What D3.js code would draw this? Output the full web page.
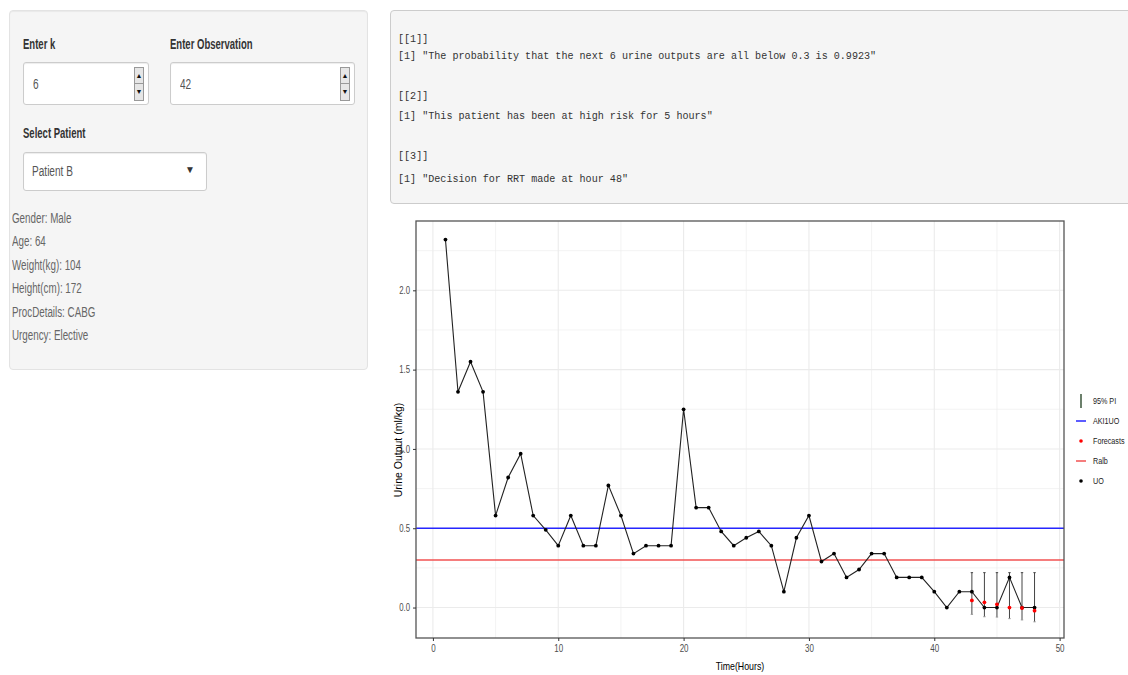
<!DOCTYPE html>
<html>
<head>
<meta charset="utf-8">
<script src="https://cdn.jsdelivr.net/npm/d3@7"></script>
<style>
  body { margin: 0; background: #fff; font-family: "Liberation Sans", Arial, sans-serif; }
  #page { position: relative; width: 1128px; height: 675px; overflow: hidden; }
  .abs { position: absolute; }
  .sq { display: inline-block; white-space: nowrap; transform-origin: 0 50%; }
  .well { left: 9px; top: 10px; width: 357px; height: 358px; background: #f5f5f5;
          border: 1px solid #e3e3e3; border-radius: 4px; box-shadow: inset 0 1px 1px rgba(0,0,0,.05); }
  .lbl { font-weight: bold; font-size: 14px; color: #333; line-height: 16px; }
  .lbl .sq { transform: scaleX(0.68); }
  .inp { background: #fff; border: 1px solid #ccc; border-radius: 3px;
         box-shadow: inset 0 1px 1px rgba(0,0,0,.075); }
  .val { font-size: 14px; color: #555; line-height: 16px; }
  .val .sq { transform: scaleX(0.72); }
  .spin { width: 8px; height: 32px; border: 1px solid #999; background: #e6e6e6; }
  .spin div { height: 16px; font-size: 7px; line-height: 16px; text-align: center; color: #111; }
  .info { left: 12px; font-size: 14px; color: #666; line-height: 16px; }
  .info .sq { transform: scaleX(0.7); }
  .pre { left: 390px; top: 10px; width: 760px; height: 192px; background: #f5f5f5;
         border: 1px solid #ccc; border-radius: 4px; }
  .mono { left: 398px; font-family: "Liberation Mono", "DejaVu Sans Mono", monospace; font-size: 11.5px;
          color: #333; line-height: 14px; }
  .mono .sq { transform: scaleX(0.877); }
  svg { position: absolute; left: 0; top: 0; }
</style>
</head>
<body>
<div id="page"></div>
<script>
// hourly urine output (ml/kg) for Patient B
const hours = [1,2,3,4,5,6,7,8,9,10,11,12,13,14,15,16,17,18,19,20,21,22,23,24,
               25,26,27,28,29,30,31,32,33,34,35,36,37,38,39,40,41,42,43,44,45,46,47,48];
const uo = [2.32,1.36,1.55,1.36,0.58,0.82,0.97,0.58,0.49,0.39,0.58,0.39,0.39,0.77,0.58,0.34,
            0.39,0.39,0.39,1.25,0.63,0.63,0.48,0.39,0.44,0.48,0.39,0.10,0.44,0.58,0.29,0.34,
            0.19,0.24,0.34,0.34,0.19,0.19,0.19,0.10,0.00,0.10,0.10,0.00,0.00,0.19,0.00,0.00];

// forecasts and 95% prediction interval
const fcHours = [43,44,45,46,47,48];
const forecasts = [0.045,0.033,0.02,0.0,-0.003,-0.02];
const piUpper = [0.22,0.22,0.22,0.22,0.22,0.22];
const piLower = [-0.043,-0.058,-0.06,-0.07,-0.078,-0.09];

const aki1uo = 0.5, ralb = 0.3;

const xTicks = [0,10,20,30,40,50];
const yTicks = [0,0.5,1.0,1.5,2.0];
const legendItems = ["95% PI","AKI1UO","Forecasts","Ralb","UO"];

const patientInfo = ["Gender: Male","Age: 64","Weight(kg): 104","Height(cm): 172",
                     "ProcDetails: CABG","Urgency: Elective"];
const outputs = [
  ["[[1]]", "[1] \"The probability that the next 6 urine outputs are all below 0.3 is 0.9923\""],
  ["[[2]]", "[1] \"This patient has been at high risk for 5 hours\""],
  ["[[3]]", "[1] \"Decision for RRT made at hour 48\""]
];

// ---------- side panel (shiny-like inputs) ----------
const page = d3.select("#page");
page.append("div").attr("class", "abs well");

function put(cls, left, cy, txt) {
  return page.append("div").attr("class", "abs " + cls)
    .style("left", left + "px").style("top", (cy - 8) + "px")
    .append("span").attr("class", "sq").text(txt);
}

put("lbl", 23, 44, "Enter k");
put("lbl", 170, 44, "Enter Observation");
put("lbl", 23, 133, "Select Patient");

[[23, 124, "6"], [170, 183, "42"]].forEach(([l, w, v]) => {
  page.append("div").attr("class", "abs inp")
    .style("left", l + "px").style("top", "62px")
    .style("width", w + "px").style("height", "41px");
  put("val", l + 10, 84, v);
  let s = page.append("div").attr("class", "abs spin")
    .style("left", (l + w - 13) + "px").style("top", "67px");
  s.append("div").style("border-bottom", "1px solid #999").style("height", "15px").text("\u25B2");
  s.append("div").text("\u25BC");
});

page.append("div").attr("class", "abs inp")
  .style("left", "23px").style("top", "152px")
  .style("width", "182px").style("height", "37px");
put("val", 32, 171, "Patient B");
page.append("div").attr("class", "abs")
  .style("left", "185px").style("top", "164px")
  .style("font-size", "10px").style("color", "#333").text("\u25BC");

patientInfo.forEach((t, i) => put("info", 12, 218 + i * 23.4, t));

// ---------- verbatim output box ----------
page.append("div").attr("class", "abs pre");
const lineY = [[40, 57], [97, 117], [157, 180]];
outputs.forEach((o, i) => {
  put("mono", 398, lineY[i][0], o[0]);
  put("mono", 398, lineY[i][1], o[1]);
});

// ---------- chart ----------
const svg = page.append("svg").attr("width", 1128).attr("height", 675);
const panel = {left: 416, right: 1064, top: 221, bottom: 638};

const x = d3.scaleLinear().domain([-1.35, 50.35]).range([panel.left, panel.right]);
const y = d3.scaleLinear().domain([-0.192, 2.437]).range([panel.bottom, panel.top]);

const g = svg.append("g");

// minor + major grid
const xMinor = [5,15,25,35,45], yMinor = [0.25,0.75,1.25,1.75,2.25];
g.selectAll(".gx").data(xMinor.concat(xTicks)).enter().append("line")
  .attr("x1", d => x(d)).attr("x2", d => x(d))
  .attr("y1", panel.top).attr("y2", panel.bottom)
  .attr("stroke", "#ebebeb").attr("stroke-width", d => xTicks.includes(d) ? 1.1 : 0.6);
g.selectAll(".gy").data(yMinor.concat(yTicks)).enter().append("line")
  .attr("y1", d => y(d)).attr("y2", d => y(d))
  .attr("x1", panel.left).attr("x2", panel.right)
  .attr("stroke", "#ebebeb").attr("stroke-width", d => yTicks.includes(d) ? 1.1 : 0.6);

// threshold lines
g.append("line").attr("x1", panel.left).attr("x2", panel.right)
  .attr("y1", y(ralb)).attr("y2", y(ralb))
  .attr("stroke", "#f25252").attr("stroke-width", 1.6);
g.append("line").attr("x1", panel.left).attr("x2", panel.right)
  .attr("y1", y(aki1uo)).attr("y2", y(aki1uo))
  .attr("stroke", "#2626ff").attr("stroke-width", 1.6);

// prediction interval error bars
const pi = fcHours.map((h, i) => ({h: h, lo: piLower[i], hi: piUpper[i]}));
let eb = g.selectAll(".eb").data(pi).enter().append("g");
eb.append("line").attr("x1", d => x(d.h)).attr("x2", d => x(d.h))
  .attr("y1", d => y(d.hi)).attr("y2", d => y(d.lo))
  .attr("stroke", "#444").attr("stroke-width", 1);
eb.append("line").attr("x1", d => x(d.h) - 1.2).attr("x2", d => x(d.h) + 1.2)
  .attr("y1", d => y(d.hi)).attr("y2", d => y(d.hi))
  .attr("stroke", "#444").attr("stroke-width", 1);
eb.append("line").attr("x1", d => x(d.h) - 1.2).attr("x2", d => x(d.h) + 1.2)
  .attr("y1", d => y(d.lo)).attr("y2", d => y(d.lo))
  .attr("stroke", "#999").attr("stroke-width", 1);

// observed urine output
const obs = hours.map((h, i) => ({h: h, v: uo[i]}));
g.append("path").datum(obs)
  .attr("fill", "none").attr("stroke", "#222").attr("stroke-width", 1.1)
  .attr("d", d3.line().x(d => x(d.h)).y(d => y(d.v)));
g.selectAll(".pt").data(obs).enter().append("circle")
  .attr("cx", d => x(d.h)).attr("cy", d => y(d.v)).attr("r", 1.9).attr("fill", "#000");

// forecasts
g.selectAll(".fc").data(fcHours.map((h, i) => ({h: h, v: forecasts[i]})))
  .enter().append("circle")
  .attr("cx", d => x(d.h)).attr("cy", d => y(d.v)).attr("r", 1.9).attr("fill", "#ff0000");

// panel border
g.append("rect").attr("x", panel.left).attr("y", panel.top)
  .attr("width", panel.right - panel.left).attr("height", panel.bottom - panel.top)
  .attr("fill", "none").attr("stroke", "#555").attr("stroke-width", 1.3);

// axes
const xAxis = svg.append("g").attr("transform", "translate(0," + panel.bottom + ")")
  .call(d3.axisBottom(x).tickValues(xTicks).tickSize(3).tickPadding(4).tickFormat(d3.format("d")));
const yAxis = svg.append("g").attr("transform", "translate(" + panel.left + ",0)")
  .call(d3.axisLeft(y).tickValues(yTicks).tickSize(3).tickPadding(3).tickFormat(d3.format(".1f")));
[xAxis, yAxis].forEach(a => {
  a.select(".domain").remove();
  a.selectAll(".tick line").attr("stroke", "#333");
  a.selectAll(".tick text").attr("fill", "#4d4d4d").attr("font-size", 10)
    .attr("font-family", "Liberation Sans, Arial, sans-serif");
});
xAxis.selectAll(".tick text").attr("transform", "scale(0.8,1)");
yAxis.selectAll(".tick text").attr("transform", "translate(-6,0) scale(0.78,1)").attr("x", 0);

function sqText(sel, tx, ty, sx, txt, size, anchor, rot) {
  return sel.append("text")
    .attr("transform", "translate(" + tx + "," + ty + ")" + (rot ? " rotate(" + rot + ")" : "") + " scale(" + sx + ",1)")
    .attr("font-family", "Liberation Sans, Arial, sans-serif")
    .attr("font-size", size).attr("text-anchor", anchor || "start").text(txt);
}

sqText(svg, 740, 670, 0.8, "Time(Hours)", 11, "middle").attr("fill", "#000");
sqText(svg, 402, 450, 1, "Urine Output (ml/kg)", 10.5, "middle", -90).attr("fill", "#000");

// legend
const lg = svg.append("g");
legendItems.forEach((d, i) => {
  const yy = 401 + i * 20;
  if (d === "95% PI") {
    lg.append("line").attr("x1", 1081).attr("x2", 1081).attr("y1", yy - 7).attr("y2", yy + 7)
      .attr("stroke", "#2d4a2d").attr("stroke-width", 1.4);
  } else if (d === "AKI1UO" || d === "Ralb") {
    lg.append("line").attr("x1", 1076).attr("x2", 1086).attr("y1", yy).attr("y2", yy)
      .attr("stroke", d === "AKI1UO" ? "#2626ff" : "#f25252").attr("stroke-width", 1.5);
  } else {
    lg.append("circle").attr("cx", 1081).attr("cy", yy).attr("r", 1.8)
      .attr("fill", d === "Forecasts" ? "#ff0000" : "#000");
  }
  sqText(lg, 1093, yy + 3, 0.8, d, 9, "start").attr("fill", "#222");
});
</script>
</body>
</html>
